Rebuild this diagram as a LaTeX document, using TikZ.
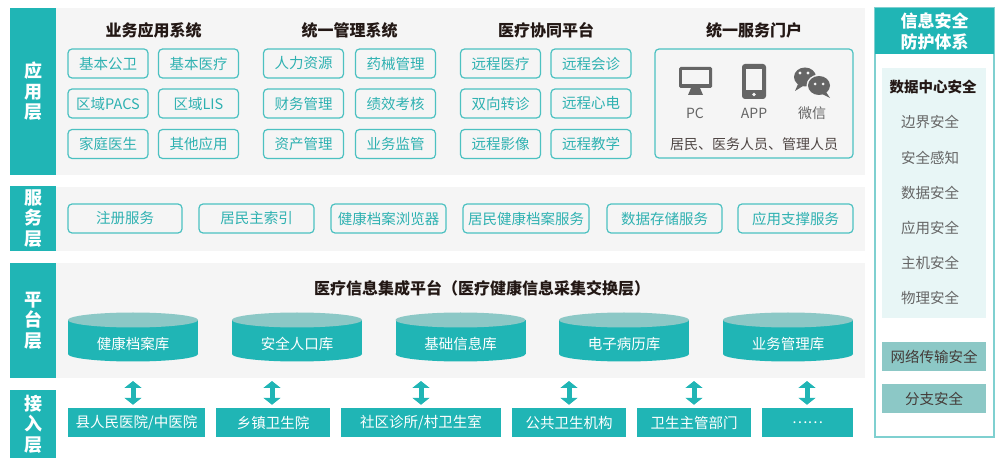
\documentclass[tikz,border=0pt]{standalone}
\usepackage{fontspec}
\setmainfont{Noto Sans CJK SC}
\usetikzlibrary{arrows.meta}
\definecolor{tq}{HTML}{20B5B5}
\definecolor{tqlight}{HTML}{8CC8C6}
\definecolor{tqline}{HTML}{4CC1C1}
\definecolor{tqtext}{HTML}{2EB1B1}
\definecolor{bg}{HTML}{F5F5F5}
\definecolor{ink}{HTML}{231815}
\definecolor{ico}{HTML}{656565}
\definecolor{pale}{HTML}{E8F6F6}
\definecolor{frame}{HTML}{7FD0D0}
\tikzset{every picture/.style = {x=1pt, y=-1pt}}
\tikzset{lay/.style = {fill=tq, text=white, font=\fontsize{18}{20.5}\selectfont\bfseries, align=center, minimum width=46, inner sep=0}}
\tikzset{ttl/.style = {text=ink, font=\fontsize{16}{18}\selectfont\bfseries}}
\tikzset{app/.style = {draw=tqline, line width=1.2, rounded corners=4, text=tqtext, font=\fontsize{14.5}{16}\selectfont, minimum width=80, minimum height=29, inner sep=1}}
\tikzset{svc/.style = {app, minimum width=115}}
\tikzset{acc/.style = {fill=tq, text=white, font=\fontsize{14.5}{16}\selectfont, minimum width=114, minimum height=29, inner sep=1}}
\tikzset{dbt/.style = {text=white, font=\fontsize{14.5}{16}\selectfont}}
\tikzset{icl/.style = {text=ico, font=\fontsize{14}{16}\selectfont}}
\tikzset{sec/.style = {text=ico, font=\fontsize{14.5}{16}\selectfont}}
\tikzset{secbox/.style = {fill=tqlight, text=ink!85, font=\fontsize{14.5}{16}\selectfont, minimum width=104, minimum height=29, inner sep=0}}
\tikzset{dbl/.style = {tq, line width=5, shorten >=3pt, {Triangle[width=17pt, length=7pt]}-{Triangle[width=17pt, length=7pt]}}}
\begin{document}
\begin{tikzpicture}
  \useasboundingbox (0,0) rectangle (1002,470);
  % layer panels
  \fill[bg] (56,8) rectangle (865,175);
  \fill[bg] (56,187) rectangle (865,251);
  \fill[bg] (56,263) rectangle (865,378);
  \node[lay, minimum height=167] (l1) at (33,91.5) {应\\用\\层};
  \node[lay, minimum height=65] (l2) at (33,218.5) {服\\务\\层};
  \node[lay, minimum height=115] (l3) at (33,320.5) {平\\台\\层};
  \node[lay, minimum height=68] (l4) at (33,424) {接\\入\\层};
  % application layer
  \node[ttl] (t1) at (153.5,30) {业务应用系统};
  \node[ttl] (t2) at (349.5,30) {统一管理系统};
  \node[ttl] (t3) at (546,30) {医疗协同平台};
  \node[ttl] (t4) at (754,30) {统一服务门户};
  \node[app] (b1) at (108,63.5) {基本公卫};
  \node[app] (b2) at (198.5,63.5) {基本医疗};
  \node[app] (b3) at (108,103.5) {区域PACS};
  \node[app] (b4) at (198.5,103.5) {区域LIS};
  \node[app] (b5) at (108,144) {家庭医生};
  \node[app] (b6) at (198.5,144) {其他应用};
  \node[app] (b7) at (303.5,63.5) {人力资源};
  \node[app] (b8) at (395.5,63.5) {药械管理};
  \node[app] (b9) at (303.5,103.5) {财务管理};
  \node[app] (b10) at (395.5,103.5) {绩效考核};
  \node[app] (b11) at (303.5,144) {资产管理};
  \node[app] (b12) at (395.5,144) {业务监管};
  \node[app] (b13) at (500.5,63.5) {远程医疗};
  \node[app] (b14) at (591,63.5) {远程会诊};
  \node[app] (b15) at (500.5,103.5) {双向转诊};
  \node[app] (b16) at (591,103.5) {远程心电};
  \node[app] (b17) at (500.5,144) {远程影像};
  \node[app] (b18) at (591,144) {远程教学};
  \node[app, minimum width=198, minimum height=109] (portal) at (754,103.5) {};
  % pc
  \fill[ico, rounded corners=1.5] (679,67) rectangle (712,88);
  \fill[bg] (682,70) rectangle (709,84);
  \fill[ico] (691,88) -- (700,88) -- (703,95) -- (688,95) -- cycle;
  % phone
  \fill[ico, rounded corners=3] (742,64) rectangle (766,99);
  \fill[bg] (746,69) rectangle (762,90);
  \fill[bg] (754,94.5) circle (1.8);
  % wechat
  \fill[ico] (805,77) ellipse [x radius=11, y radius=9.5];
  \fill[ico] (798,84) -- (795,91) -- (803,86) -- cycle;
  \fill[bg] (819,85.5) ellipse [x radius=12.5, y radius=11];
  \fill[ico] (819,85.5) ellipse [x radius=11, y radius=9.5];
  \fill[ico] (826,92) -- (830,98) -- (822,94) -- cycle;
  \fill[bg] (800,73) circle (1.7) (808,73) circle (1.7);
  \fill[bg] (815,84) circle (1.5) (823,84) circle (1.5);
  \node[icl] (pc) at (695,113) {PC};
  \node[icl] (ap) at (754,113) {APP};
  \node[icl] (wx) at (812,113) {微信};
  \node[icl, text=ink!80] (us) at (754,144) {居民、医务人员、管理人员};
  % service layer
  \node[svc, minimum width=114] (v1) at (125,218.5) {注册服务};
  \node[svc] (v2) at (256.5,218.5) {居民主索引};
  \node[svc] (v3) at (388.5,218.5) {健康档案浏览器};
  \node[svc, minimum width=126] (v4) at (526,218.5) {居民健康档案服务};
  \node[svc] (v5) at (664.5,218.5) {数据存储服务};
  \node[svc] (v6) at (795.5,218.5) {应用支撑服务};
  % platform layer
  \node[ttl] (pt) at (482,288) {医疗信息集成平台（医疗健康信息采集交换层）};
  \foreach \x/\n/\t in {133/d1/健康档案库, 297/d2/安全人口库, 460.5/d3/基础信息库, 624/d4/电子病历库, 788/d5/业务管理库} {
    \fill[tq] (\x-65,320) rectangle (\x+65,354);
    \fill[tq] (\x,354) ellipse [x radius=65, y radius=7.5];
    \fill[tqlight] (\x,320) ellipse [x radius=65, y radius=7.5];
    \node[dbt] (\n) at (\x,344) {\t};
  }
  % access layer
  \node[acc, minimum width=137] (a1) at (136.5,422.5) {县人民医院/中医院};
  \node[acc] (a2) at (273,422.5) {乡镇卫生院};
  \node[acc, minimum width=160] (a3) at (421,422.5) {社区诊所/村卫生室};
  \node[acc] (a4) at (569,422.5) {公共卫生机构};
  \node[acc] (a5) at (694,422.5) {卫生主管部门};
  \node[acc, minimum width=91] (a6) at (807.5,422.5) {……};
  \coordinate (p1) at (133,381);
  \coordinate (p2) at (272,381);
  \coordinate (p3) at (421,381);
  \coordinate (p4) at (569,381);
  \coordinate (p5) at (694,381);
  \coordinate (p6) at (807,381);
  \draw[dbl] (p1) -- (p1 |- a1.north);
  \draw[dbl] (p2) -- (p2 |- a2.north);
  \draw[dbl] (p3) -- (p3 |- a3.north);
  \draw[dbl] (p4) -- (p4 |- a4.north);
  \draw[dbl] (p5) -- (p5 |- a5.north);
  \draw[dbl] (p6) -- (p6 |- a6.north);
  % security column
  \draw[frame, line width=1.5] (875,8) rectangle (994,437);
  \node[lay, font=\fontsize{17}{21}\selectfont\bfseries, minimum width=119, minimum height=46] (sh) at (934.5,31) {信息安全\\防护体系};
  \fill[pale] (882,68) rectangle (986,318);
  \node[ttl, font=\fontsize{14.5}{16}\selectfont\bfseries] (s0) at (933,87) {数据中心安全};
  \node[sec] (s1) at (930,122) {边界安全};
  \node[sec] (s2) at (930,158) {安全感知};
  \node[sec] (s3) at (930,193) {数据安全};
  \node[sec] (s4) at (930,228) {应用安全};
  \node[sec] (s5) at (930,263) {主机安全};
  \node[sec] (s6) at (930,298) {物理安全};
  \node[secbox] (s7) at (934,356.5) {网络传输安全};
  \node[secbox] (s8) at (934,399) {分支安全};
\end{tikzpicture}
\end{document}
